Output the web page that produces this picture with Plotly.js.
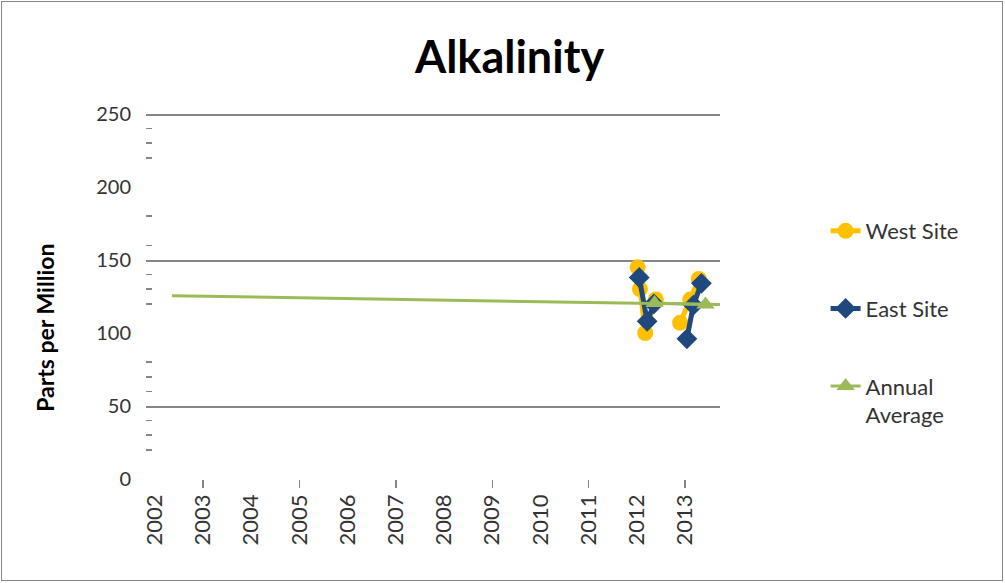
<!DOCTYPE html>
<html><head><meta charset="utf-8">
<script src="https://cdn.plot.ly/plotly-3.0.1.min.js"></script>
<style>
html,body{margin:0;padding:0;background:#fff;}
#wrap{position:relative;width:1005px;height:583px;}
#chart{width:1005px;height:583px;}
#frame{position:absolute;left:1px;top:1px;width:1002px;height:580px;border:1px solid #868686;box-sizing:border-box;pointer-events:none;}
</style>
</head><body>
<div id="wrap"><div id="chart"></div><div id="frame"></div></div>
<script>
// ---- data ----
const westDates = ['2012-01-08','2012-01-25','2012-03-05','2012-05-25','2012-08-15','2012-11-25','2013-02-10','2013-04-15'];
const westValues = [145, 130, 100, 123, null, 107, 123, 137];

const eastDates = ['2012-01-20','2012-03-20','2012-05-10','2012-08-15','2013-01-15','2013-03-05','2013-05-05'];
const eastValues = [138, 108, 120, null, 96, 119, 134];

// annual average line; only the 2012 and 2013 points carry a marker
const avgDates = ['2002-05-10','2012-05-15','2013-06-05','2013-09-30'];
const avgValues = [125.5, 120.5, 119.5, 119.5];
const avgMarkerFrom = 1, avgMarkerTo = 3;

const seriesNames = ['West Site', 'East Site', 'Annual<br>Average'];
const yMinorTicks = [20,30,40,60,70,80,120,130,140,160,180,220,230,240];

const FONT = 'Lato, "Open Sans", "DejaVu Sans", sans-serif';
const TXT = '#333333';
const GREEN = '#9BBB59';

const traces = [
  {x: avgDates, y: avgValues, type: 'scatter', mode: 'lines', showlegend: false,
   legendgroup: 'a', yaxis: 'y2', line: {color: GREEN, width: 3}},
  {x: westDates, y: westValues, name: seriesNames[0], type: 'scatter', mode: 'lines+markers',
   connectgaps: false, legendgroup: 'w',
   line: {color: '#FFC000', width: 5},
   marker: {symbol: 'circle', size: 16, color: '#FFC000'}},
  {x: eastDates, y: eastValues, name: seriesNames[1], type: 'scatter', mode: 'lines+markers',
   connectgaps: false, legendgroup: 'e',
   line: {color: '#1F497D', width: 5},
   marker: {symbol: 'diamond', size: 16, color: '#1F497D'}},
  {x: avgDates.slice(avgMarkerFrom, avgMarkerTo), y: avgValues.slice(avgMarkerFrom, avgMarkerTo),
   name: seriesNames[2], type: 'scatter', mode: 'lines+markers',
   legendgroup: 'a', yaxis: 'y2',
   line: {color: GREEN, width: 3},
   marker: {symbol: 'triangle-up', size: 16, color: GREEN}}
];

const layout = {
  width: 1005, height: 583,
  paper_bgcolor: '#ffffff', plot_bgcolor: '#ffffff',
  margin: {l: 146, r: 285, t: 114, b: 104},
  font: {family: FONT, color: TXT, size: 20},
  title: {text: '<b>Alkalinity</b>', font: {family: FONT, size: 45, color: '#000000'},
          x: 0.507, xref: 'container', xanchor: 'center', y: 0.902, yref: 'container', yanchor: 'middle'},
  showlegend: true,
  legend: {x: 1.184, xanchor: 'left', y: 0.737, yanchor: 'top', traceorder: 'grouped',
           tracegroupgap: 46, valign: 'top', bgcolor: 'rgba(0,0,0,0)',
           font: {family: FONT, size: 22, color: TXT}},
  xaxis: {type: 'date', range: ['2001-10-26', '2013-09-23'], autorange: false,
          tickmode: 'linear', tick0: '2002-01-01', dtick: 'M12', tickformat: '%Y',
          tickangle: -90, ticks: '', ticklabelstandoff: 10,
          tickfont: {family: FONT, size: 22, color: TXT},
          showgrid: false, zeroline: false, showline: false,
          minor: {tickmode: 'linear', tick0: '2003-01-01 12:00', dtick: 'M24',
                  ticks: 'outside', ticklen: 8, tickwidth: 1.5, tickcolor: '#868686', showgrid: false}},
  yaxis: {range: [0, 250], autorange: false, tickmode: 'linear', tick0: 0, dtick: 50,
          ticks: '', ticklabelstandoff: 14, showgrid: false, zeroline: false, showline: false,
          tickfont: {family: FONT, size: 20, color: TXT},
          minor: {tickmode: 'array', tickvals: yMinorTicks, ticks: 'inside', ticklen: 6,
                  tickwidth: 1.5, tickcolor: '#868686', showgrid: false}},
  yaxis2: {overlaying: 'y', side: 'left', range: [0, 250], autorange: false,
           tickmode: 'linear', tick0: 49.3, dtick: 100, showticklabels: false, ticks: '',
           showgrid: true, gridcolor: '#868686', gridwidth: 2, zeroline: false, showline: false},
  annotations: [{text: '<b>Parts per Million</b>', textangle: -90, xref: 'paper', yref: 'paper',
                 x: -0.176, y: 0.414, xanchor: 'center', yanchor: 'middle', showarrow: false,
                 font: {family: FONT, size: 23, color: '#000000'}}]
};

Plotly.newPlot('chart', traces, layout, {displayModeBar: false, staticPlot: true});
</script>
</body></html>
